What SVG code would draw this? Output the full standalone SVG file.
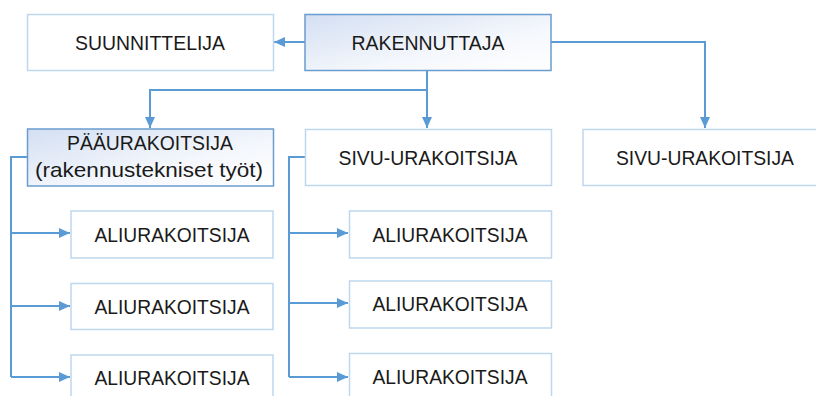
<svg xmlns="http://www.w3.org/2000/svg" width="816" height="396" viewBox="0 0 816 396">
<defs>
<linearGradient id="g" x1="0" y1="0" x2="1" y2="1">
<stop offset="0" stop-color="#D3DFF2"/>
<stop offset="0.6" stop-color="#F4F7FC"/>
<stop offset="1" stop-color="#FFFFFF"/>
</linearGradient>
<marker id="a" markerUnits="userSpaceOnUse" markerWidth="12" markerHeight="10" refX="11" refY="5" orient="auto">
<path d="M0,0 L11,5 L0,10 Z" fill="#5B9BD5"/>
</marker>
</defs>
<style>
.lb{fill:#fff;stroke:#BDD7EE;stroke-width:1.5}
.db{fill:url(#g);stroke:#6A9CD0;stroke-width:1.5}
.t{font-family:"Liberation Sans",Arial,sans-serif;font-size:21px;fill:#1a1a1a;text-anchor:middle}
.c{fill:none;stroke:#5B9BD5;stroke-width:2}
</style>
<g id="connectors">
<path class="c" d="M305,42 H274" marker-end="url(#a)"/>
<path class="c" d="M551,42 H705 V128" marker-end="url(#a)"/>
<path class="c" d="M427,71 V128" marker-end="url(#a)"/>
<path class="c" d="M427,90 H150 V128" marker-end="url(#a)"/>
<path class="c" d="M27,157 H11 V377"/>
<path class="c" d="M11,233 H70" marker-end="url(#a)"/>
<path class="c" d="M11,306 H70" marker-end="url(#a)"/>
<path class="c" d="M11,377 H70" marker-end="url(#a)"/>
<path class="c" d="M305,157 H289 V377"/>
<path class="c" d="M289,233 H348" marker-end="url(#a)"/>
<path class="c" d="M289,303 H348" marker-end="url(#a)"/>
<path class="c" d="M289,377 H348" marker-end="url(#a)"/>
</g>
<g id="suunnittelija">
<rect class="lb" x="27.5" y="14.5" width="246" height="56"/>
<text class="t" x="150" y="50" textLength="150" lengthAdjust="spacingAndGlyphs">SUUNNITTELIJA</text>
</g>
<g id="rakennuttaja">
<rect class="db" x="305" y="14.5" width="246" height="56"/>
<text class="t" x="428" y="50" textLength="153" lengthAdjust="spacingAndGlyphs">RAKENNUTTAJA</text>
</g>
<g id="paaurakoitsija">
<rect class="db" x="27.5" y="129" width="246" height="57"/>
<text class="t" x="150" y="150" textLength="166" lengthAdjust="spacingAndGlyphs">PÄÄURAKOITSIJA</text>
<text class="t" x="149" y="177" textLength="228" lengthAdjust="spacingAndGlyphs">(rakennustekniset työt)</text>
</g>
<g id="sivu1">
<rect class="lb" x="305.5" y="129.5" width="246" height="56"/>
<text class="t" x="428" y="164.5" textLength="179" lengthAdjust="spacingAndGlyphs">SIVU-URAKOITSIJA</text>
</g>
<g id="sivu2">
<rect class="lb" x="583" y="129.5" width="246" height="56"/>
<text class="t" x="705" y="164.5" textLength="178" lengthAdjust="spacingAndGlyphs">SIVU-URAKOITSIJA</text>
</g>
<g id="ali1">
<rect class="lb" x="71" y="211" width="202" height="47"/>
<text class="t" x="172" y="241.7" textLength="155" lengthAdjust="spacingAndGlyphs">ALIURAKOITSIJA</text>
</g>
<g id="ali2">
<rect class="lb" x="71" y="283.5" width="202" height="46"/>
<text class="t" x="172" y="314" textLength="155" lengthAdjust="spacingAndGlyphs">ALIURAKOITSIJA</text>
</g>
<g id="ali3">
<rect class="lb" x="71" y="355" width="202" height="47"/>
<text class="t" x="172" y="385" textLength="155" lengthAdjust="spacingAndGlyphs">ALIURAKOITSIJA</text>
</g>
<g id="ali4">
<rect class="lb" x="349.5" y="211" width="202" height="47"/>
<text class="t" x="450" y="241.7" textLength="155" lengthAdjust="spacingAndGlyphs">ALIURAKOITSIJA</text>
</g>
<g id="ali5">
<rect class="lb" x="349.5" y="281" width="202" height="47"/>
<text class="t" x="450" y="310.7" textLength="155" lengthAdjust="spacingAndGlyphs">ALIURAKOITSIJA</text>
</g>
<g id="ali6">
<rect class="lb" x="349.5" y="353.5" width="202" height="47"/>
<text class="t" x="450" y="384" textLength="155" lengthAdjust="spacingAndGlyphs">ALIURAKOITSIJA</text>
</g>
</svg>
